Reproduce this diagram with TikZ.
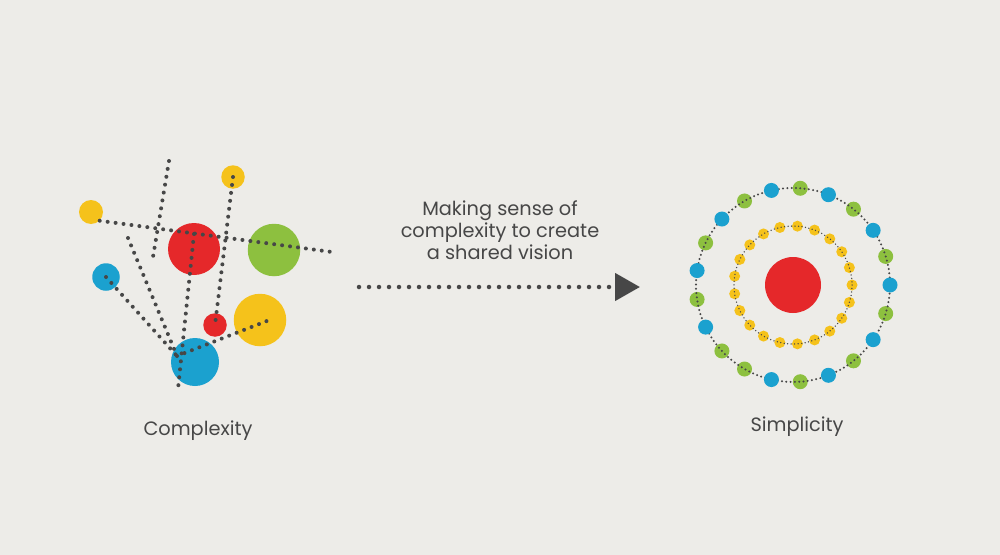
\documentclass[tikz,border=0pt]{standalone}
\usepackage{fontspec}
\setmainfont{Poppins}
\usetikzlibrary{arrows.meta}

\definecolor{paper}{HTML}{EDECE8}
\definecolor{cred}{HTML}{E5282A}
\definecolor{cgreen}{HTML}{8DC03F}
\definecolor{cyellow}{HTML}{F5C21B}
\definecolor{cblue}{HTML}{1BA1CF}
\definecolor{ink}{HTML}{474747}

\tikzset{
  ball/.style={circle, inner sep=0pt, draw=none},
  dots/.style={ink, line cap=round, line width=0.8mm, dash pattern=on 0pt off 1.6mm},
  ringdots/.style={ink, line cap=round, line width=0.45mm, dash pattern=on 0pt off 0.86mm},
  finedots/.style={ink, line cap=round, line width=0.3mm, dash pattern=on 0pt off 0.7mm},
  caption/.style={ink, font=\fontsize{11}{12.5}\selectfont}
}

\begin{document}
\begin{tikzpicture}[x=0.2mm, y=-0.2mm]
  \fill [paper] (0,0) rectangle (1000,555);
  \useasboundingbox (0,0) rectangle (1000,555);

  % complexity
  \node [ball, fill=cyellow, minimum size=4.8mm]  (yelA) at (91,212)  {};
  \node [ball, fill=cyellow, minimum size=4.7mm]  (yelB) at (233,177) {};
  \node [ball, fill=cred,    minimum size=10.4mm] (redA) at (194,249) {};
  \node [ball, fill=cgreen,  minimum size=10.5mm] (grnA) at (274,250) {};
  \node [ball, fill=cblue,   minimum size=5.5mm]  (bluA) at (106,277) {};
  \node [ball, fill=cred,    minimum size=4.7mm]  (redB) at (215,325) {};
  \node [ball, fill=cyellow, minimum size=10.5mm] (yelC) at (260,320) {};
  \node [ball, fill=cblue,   minimum size=9.6mm]  (bluB) at (195,362) {};

  \coordinate (hub)  at (177,356);
  \coordinate (endA) at (332,252);
  \coordinate (topA) at (169,161);
  \coordinate (endB) at (153,257);
  \coordinate (topB) at (128,238);
  \coordinate (topC) at (194,234);
  \coordinate (endC) at (178,389);
  \coordinate (endD) at (272,319);

  \draw [dots] (yelA.south east) -- (endA);
  \draw [dots] (topA) -- (endB);
  \draw [dots] (topB) -- (hub);
  \draw [dots] (bluA.center) -- (hub);
  \draw [dots] (topC) -- (endC);
  \draw [dots] (yelB.center) -- (redB.center);
  \draw [dots] (hub) -- (endD);

  \node [caption] (lblCx) at (198,431) {Complexity};

  % arrow
  \coordinate (arrS) at (359,287);
  \coordinate (arrE) at (640,287);
  \draw [ink, line cap=round, line width=0.9mm, dash pattern=on 0pt off 2mm,
    -{Triangle[length=5mm, width=5.4mm]}] (arrS) -- (arrE);
  \node [caption, align=center] (lblArr) at (500,230)
    {Making sense of\\complexity to create\\a shared vision};

  % simplicity
  \node [ball, fill=cred, minimum size=11.2mm] (core) at (793,285) {};

  \foreach \i in {0,...,20}
    \node [ball, fill=cyellow, minimum size=2.2mm] (in\i)
      at ([shift={(-\i*360/21:59)}]core) {};
  \draw [finedots] (core) circle [radius=59];

  \foreach \i in {1,3,5,7,9,11,13,14,16,18,20}
    \node [ball, fill=cgreen, minimum size=3mm] (out\i)
      at ([shift={(-\i*360/21:97)}]core) {};
  \draw [ringdots] (core) circle [radius=97];
  \foreach \i in {0,2,4,6,8,10,12,15,17,19}
    \node [ball, fill=cblue, minimum size=3mm] (out\i)
      at ([shift={(-\i*360/21:97)}]core) {};

  \node [caption] (lblSm) at (797,427) {Simplicity};
\end{tikzpicture}
\end{document}
